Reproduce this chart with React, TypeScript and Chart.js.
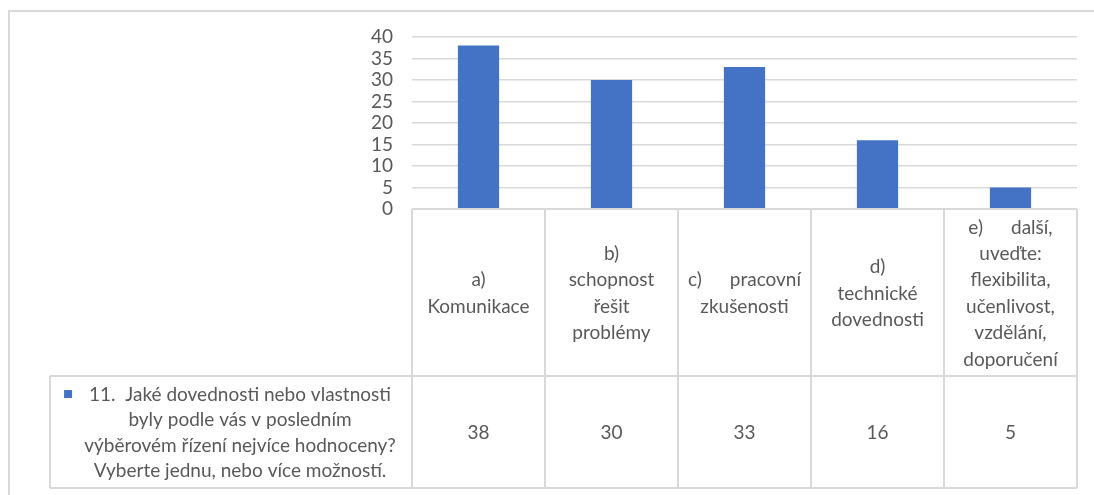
import React, { useEffect, useRef } from "react";
import { Chart, registerables } from "chart.js";

Chart.register(...registerables);

// ---- data ----
const categoryLines: string[][] = [
  ["a)", "Komunikace"],
  ["b)", "schopnost", "řešit", "problémy"],
  ["c)\tpracovní", "zkušenosti"],
  ["d)", "technické", "dovednosti"],
  ["e)\tdalší,", "uveďte:", "flexibilita,", "učenlivost,", "vzdělání,", "doporučení"],
];
const values: number[] = [38, 30, 33, 16, 5];
const seriesNameLines: string[] = [
  "11.  Jaké dovednosti nebo vlastnosti",
  "byly podle vás v posledním",
  "výběrovém řízení nejvíce hodnoceny?",
  "Vyberte jednu, nebo více možností.",
];
const yMin = 0;
const yMax = 40;
const yStep = 5;

const FONT_FAMILY = "Lato, 'Noto Sans', sans-serif";
const FONT_SIZE = 19;
const TEXT = "#595959";
const LINE = "#d9d9d9";
const BAR = "#4472c4";

const tablePlugin = {
  id: "dataTable",
  afterDraw(chart: any) {
    const ctx: CanvasRenderingContext2D = chart.ctx;
    const area = chart.chartArea;
    const xs = chart.scales.x;
    const n = categoryLines.length;
    const left = area.left;
    const right = area.right;
    const colW = (right - left) / n;
    const top = area.bottom;
    const row1B = top + 167;
    const row2B = row1B + 112;
    const legL = 50;

    ctx.save();
    // outer frame
    ctx.strokeStyle = LINE;
    ctx.lineWidth = 2;
    ctx.beginPath();
    ctx.moveTo(9, 1200);
    ctx.lineTo(9, 11);
    ctx.lineTo(2000, 11);
    ctx.stroke();

    // table lines
    ctx.lineWidth = 2;
    ctx.beginPath();
    ctx.moveTo(left, top);
    ctx.lineTo(right, top);
    ctx.moveTo(legL, row1B);
    ctx.lineTo(right, row1B);
    ctx.moveTo(legL, row2B);
    ctx.lineTo(right, row2B);
    for (let i = 0; i <= n; i++) {
      const x = left + i * colW;
      ctx.moveTo(x, top);
      ctx.lineTo(x, row2B);
    }
    ctx.moveTo(legL, row1B);
    ctx.lineTo(legL, row2B);
    ctx.stroke();

    // category labels
    ctx.fillStyle = TEXT;
    ctx.font = `${FONT_SIZE}px ${FONT_FAMILY}`;
    ctx.textBaseline = "middle";
    const lh = 26.4;
    const midY1 = (top + row1B) / 2 + 1;
    categoryLines.forEach((lines, i) => {
      const cx = xs.getPixelForValue(i);
      const startY = midY1 - ((lines.length - 1) * lh) / 2;
      lines.forEach((ln, j) => {
        const y = startY + j * lh;
        if (ln.includes("\t")) {
          const [a, b] = ln.split("\t");
          const gap = 28;
          const wa = ctx.measureText(a).width;
          const wb = ctx.measureText(b).width;
          const total = wa + gap + wb;
          const sx = cx - total / 2;
          ctx.textAlign = "left";
          ctx.fillText(a, sx, y);
          ctx.fillText(b, sx + wa + gap, y);
        } else {
          ctx.textAlign = "center";
          ctx.fillText(ln, cx, y);
        }
      });
    });

    // values row
    const midY2 = (row1B + row2B) / 2 + 1;
    ctx.textAlign = "center";
    values.forEach((v, i) => {
      ctx.fillText(String(v), xs.getPixelForValue(i), midY2);
    });

    // legend cell
    const llh = 25.3;
    const lcx = (legL + left) / 2 + 9;
    const lStart = midY2 - ((seriesNameLines.length - 1) * llh) / 2;
    seriesNameLines.forEach((ln, j) => {
      const y = lStart + j * llh;
      ctx.textAlign = "center";
      ctx.fillText(ln, lcx, y);
      if (j === 0) {
        const w = ctx.measureText(ln).width;
        ctx.fillStyle = BAR;
        ctx.fillRect(lcx - w / 2 - 25, y - 5, 8, 8);
        ctx.fillStyle = TEXT;
      }
    });
    ctx.restore();
  },
};

export default function App() {
  const ref = useRef<HTMLCanvasElement | null>(null);
  useEffect(() => {
    if (!ref.current) return;
    const chart = new Chart(ref.current, {
      type: "bar",
      data: {
        labels: categoryLines.map((l) => l.join(" ").replace("\t", " ")),
        datasets: [
          {
            label: seriesNameLines.join(" "),
            data: values,
            backgroundColor: BAR,
            barPercentage: 0.31,
            categoryPercentage: 1,
          },
        ],
      },
      options: {
        animation: false,
        responsive: false,
        layout: { padding: { left: 332, right: 17, top: 37, bottom: 286 } },
        plugins: { legend: { display: false }, tooltip: { enabled: false } },
        scales: {
          x: { display: false, offset: true, grid: { display: false } },
          y: {
            min: yMin,
            max: yMax,
            ticks: {
              stepSize: yStep,
              autoSkip: false,
              padding: 19,
              color: TEXT,
              font: { family: FONT_FAMILY, size: FONT_SIZE, lineHeight: 1 },
            },
            grid: { color: LINE, lineWidth: 1.5, drawTicks: false },
            border: { display: false },
            afterFit(s: any) {
              s.width = 80;
            },
          },
        },
      },
      plugins: [tablePlugin],
    } as any);
    (document as any).fonts?.load?.(`${FONT_SIZE}px Lato`).then(() => chart.update());
    return () => chart.destroy();
  }, []);
  return (
    <div style={{ position: "fixed", left: 0, top: 0, width: 1094, height: 495, overflow: "hidden", background: "#fff" }}>
      <canvas ref={ref} width={1094} height={495} style={{ display: "block" }} />
    </div>
  );
}
